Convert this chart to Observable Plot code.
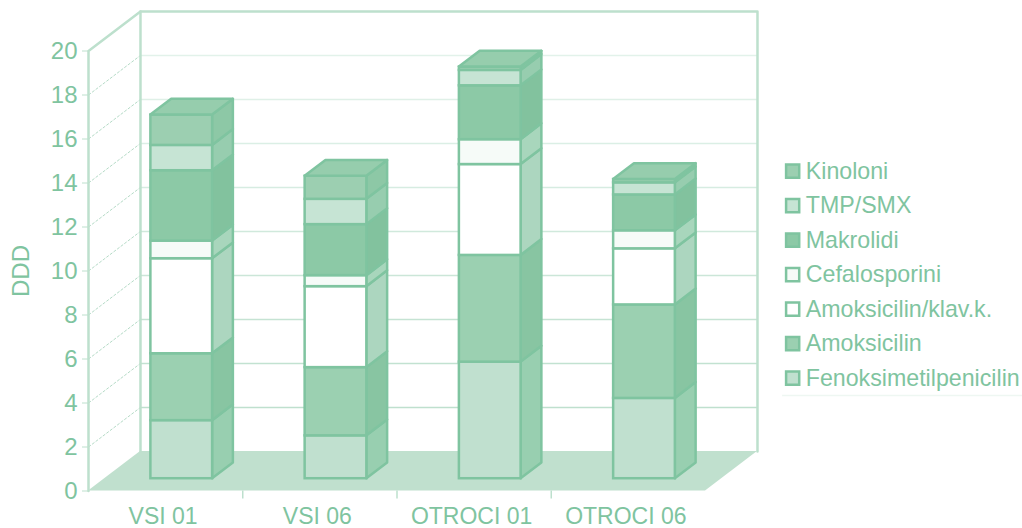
<!DOCTYPE html>
<html>
<head>
<meta charset="utf-8">
<script src="https://cdn.jsdelivr.net/npm/d3@7"></script>
<script src="https://cdn.jsdelivr.net/npm/@observablehq/plot@0.6"></script>
<style>
html,body{margin:0;padding:0;background:#fff;}
svg{display:block;}
</style>
</head>
<body>
<div id="chart"></div>
<script>
const groups = ["VSI 01", "VSI 06", "OTROCI 01", "OTROCI 06"];
const seriesNames = ["Fenoksimetilpenicilin", "Amoksicilin", "Amoksicilin/klav.k.", "Cefalosporini", "Makrolidi", "TMP/SMX", "Kinoloni"];
const fenoksimetilpenicilin = [2.64, 1.95, 5.3, 3.65];
const amoksicilin = [3.04, 3.1, 4.85, 4.25];
const amoksicilinKlav = [4.32, 3.68, 4.13, 2.55];
const cefalosporini = [0.8, 0.5, 1.13, 0.82];
const makrolidi = [3.2, 2.32, 2.45, 1.63];
const tmpSmx = [1.15, 1.15, 0.7, 0.55];
const kinoloni = [1.38, 1.05, 0.15, 0.15];
const seriesValues = [fenoksimetilpenicilin, amoksicilin, amoksicilinKlav, cefalosporini, makrolidi, tmpSmx, kinoloni];
const frontColors = ["#c0e0cf", "#9bd0b1", "#ffffff", "#f6fbf8", "#8cc9a6", "#c6e4d4", "#9ccfb1"];
const sideColors = ["#98cfb0", "#88c5a2", "#acd6bf", "#a8d6bc", "#82c29e", "#97cdaf", "#8dc8a6"];
const yTicks = [0, 2, 4, 6, 8, 10, 12, 14, 16, 18, 20];
const gridTicks = [2, 4, 6, 8, 10, 12, 14, 16, 18];
const gridShades = ["#bfe0ce", "#c2e2d1", "#c5e3d3", "#cbe6d8", "#d0e9dc", "#d6ece1", "#dbefe5", "#dff0e7", "#e2f2ea"];
const separators = [1, 2, 3];

const ink = "#7fc4a0", wall = "#bde0cd", dashInk = "#b5dbc7";
const depthX = 0.337, depthY = 1.8;          // shear of one unit of depth, in axis units
const barWidth = 0.4, depthNear = 0.31, depthFar = 0.71;
const proj = (slot, value, depth) => ({x: slot + depthX * depth, y: value + depthY * depth});

const sides = [], fronts = [], tops = [];
groups.forEach((g, i) => {
  const xl = i + 0.5 - barWidth / 2, xr = xl + barWidth;
  let base = 0;
  seriesValues.forEach((vals, s) => {
    const top = base + vals[i];
    const a = proj(xr, base, depthNear), b = proj(xr, base, depthFar);
    const c = proj(xr, top, depthNear), e = proj(xr, top, depthFar);
    sides.push({id: g + s, x: a.x, y1: a.y, y2: c.y, fill: sideColors[s]});
    sides.push({id: g + s, x: b.x, y1: b.y, y2: e.y, fill: sideColors[s]});
    const f0 = proj(xl, base, depthNear), f1 = proj(xr, top, depthNear);
    fronts.push({x1: f0.x, x2: f1.x, y1: f0.y, y2: f1.y, fill: frontColors[s]});
    base = top;
  });
  const t0 = proj(xl, base, depthNear), t1 = proj(xr, base, depthNear);
  const t2 = proj(xl, base, depthFar), t3 = proj(xr, base, depthFar);
  tops.push({id: g, x1: t0.x, x2: t1.x, y: t0.y});
  tops.push({id: g, x1: t2.x, x2: t3.x, y: t2.y});
});

const xEnd = groups.length;
const floor = [
  {x1: proj(0, 0, 0).x, x2: proj(xEnd, 0, 0).x, y: proj(0, 0, 0).y},
  {x1: proj(0, 0, 1).x, x2: proj(xEnd, 0, 1).x, y: proj(0, 0, 1).y}
];
const wallLine = [proj(0, 0, 0), proj(0, 20, 0), proj(0, 20, 1), proj(xEnd, 20, 1), proj(xEnd, 0, 1)];
const wallBack = [proj(0, 20, 1), proj(0, 0, 1)];
const backGrid = gridTicks.map((v, i) => ({x1: proj(0, v, 1).x, x2: proj(xEnd, v, 1).x, y: proj(0, v, 1).y, shade: gridShades[i]}));
const sideGrid = gridTicks.map(v => ({x1: proj(0, v, 0).x, y1: v, x2: proj(0, v, 1).x, y2: proj(0, v, 1).y}));

const legend = seriesNames.map((name, s) => ({name, s, y: 5.13 + s * 1.568}));

const chart = Plot.plot({
  width: 1022, height: 528,
  marginLeft: 88, marginRight: 317, marginTop: 50.5, marginBottom: 37.5,
  style: {background: "#fff", fontFamily: "'Liberation Sans', Arial, sans-serif", overflow: "visible"},
  x: {domain: [0, xEnd], axis: null},
  y: {domain: [0, 20], axis: null},
  marks: [
    Plot.area(floor, {x1: "x1", x2: "x2", y1: "y", y2: "y", fill: "#c0e0ce"}),
    Plot.ruleY(backGrid, {x1: "x1", x2: "x2", y: "y", stroke: "shade", strokeWidth: 1.5}),
    Plot.link(sideGrid, {x1: "x1", y1: "y1", x2: "x2", y2: "y2", stroke: dashInk, strokeWidth: 1, strokeDasharray: "3,1.5"}),
    Plot.line(wallLine, {x: "x", y: "y", stroke: wall, strokeWidth: 2.5}),
    Plot.line(wallBack, {x: "x", y: "y", stroke: wall, strokeWidth: 2.5}),
    Plot.ruleX(separators, {x: d => d, y1: 0, y2: -0.36, stroke: wall, strokeWidth: 1.5}),
    Plot.ruleY([4.34], {x1: 4.5, x2: 6.07, stroke: "#eef7f2", strokeWidth: 1.5}),
    Plot.axisY({
      ticks: yTicks, tickSize: 6, tickPadding: 5, fontSize: 24, stroke: wall, color: ink,
      label: "DDD", labelAnchor: "center", labelArrow: "none", labelOffset: 77
    }),
    Plot.axisX({
      ticks: groups.map((g, i) => i + 0.5), tickFormat: d => groups[d - 0.5],
      tickSize: 0, tickPadding: 17, fontSize: 23, dx: -2.5, color: ink, label: null
    }),
    Plot.area(sides, {x1: "x", x2: "x", y1: "y1", y2: "y2", z: "id", fill: "fill", stroke: ink, strokeWidth: 2.5, strokeLinejoin: "round"}),
    Plot.rect(fronts, {x1: "x1", x2: "x2", y1: "y1", y2: "y2", fill: "fill", stroke: ink, strokeWidth: 2.5}),
    Plot.area(tops, {x1: "x1", x2: "x2", y1: "y", y2: "y", z: "id", fill: "#96cdad", stroke: ink, strokeWidth: 2.5, strokeLinejoin: "round"}),
    Plot.dot(legend, {x: () => 4.565, y: "y", symbol: "square", r: 7.4, fill: d => frontColors[d.s], stroke: ink, strokeWidth: 2.5}),
    Plot.text(legend, {x: () => 4.65, y: "y", text: "name", textAnchor: "start", fontSize: 23.2, fill: ink})
  ]
});
document.getElementById("chart").append(chart);
</script>
</body>
</html>
